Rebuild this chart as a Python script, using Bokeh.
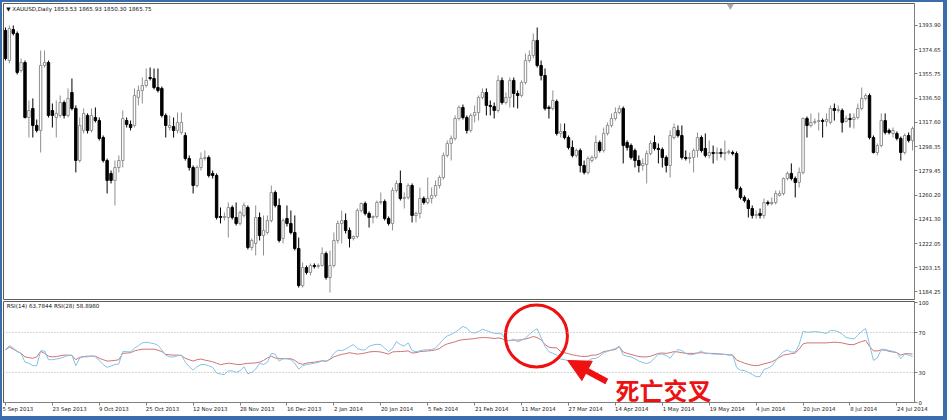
from bokeh.plotting import figure
from bokeh.layouts import column
from bokeh.models import (ColumnDataSource, FixedTicker, NumeralTickFormatter, Range1d,
                          Span, Label, Arrow, NormalHead)
from bokeh.embed import file_html
from bokeh.resources import INLINE

# XAUUSD daily bars, 5 Sep 2013 - late Jul 2014
opens = [1390.0, 1366.3, 1390.7, 1387.6, 1358.4, 1364.7, 1321.4, 1328.5, 1315.1, 1311.2,
         1362.4, 1364.7, 1326.9, 1321.4, 1323.0, 1333.2, 1323.0, 1341.1, 1328.5, 1287.5,
         1311.2, 1323.0, 1311.2, 1321.4, 1319.0, 1305.6, 1287.5, 1277.3, 1271.8, 1282.0,
         1287.5, 1319.0, 1315.9, 1315.1, 1337.2, 1342.7, 1346.6, 1352.9, 1352.1, 1345.0,
         1344.3, 1323.0, 1313.5, 1314.3, 1311.2, 1309.6, 1307.2, 1289.1, 1282.0, 1267.8,
         1282.0, 1289.1, 1289.9, 1277.3, 1275.7, 1243.4, 1242.6, 1242.6, 1250.5, 1242.6,
         1237.9, 1244.2, 1250.5, 1219.0, 1222.1, 1242.6, 1228.4, 1230.8, 1240.2, 1262.3,
         1252.1, 1226.1, 1241.8, 1237.9, 1230.8, 1218.2, 1189.0, 1203.2, 1199.3, 1204.8,
         1204.0, 1204.8, 1214.2, 1195.3, 1204.8, 1224.5, 1237.9, 1240.2, 1232.4, 1226.1,
         1227.6, 1248.1, 1253.6, 1245.8, 1242.6, 1243.4, 1254.4, 1255.2, 1241.8, 1237.9,
         1263.9, 1269.4, 1257.6, 1258.4, 1267.8, 1244.2, 1245.8, 1257.6, 1254.4, 1257.6,
         1260.0, 1267.8, 1274.1, 1291.5, 1300.9, 1304.9, 1320.6, 1329.3, 1321.4, 1311.2,
         1323.0, 1325.3, 1337.2, 1341.1, 1330.9, 1330.1, 1326.9, 1350.6, 1333.2, 1337.2,
         1350.6, 1340.3, 1338.7, 1349.0, 1366.3, 1370.3, 1382.1, 1362.4, 1354.5, 1329.3,
         1328.5, 1334.0, 1308.8, 1310.4, 1305.6, 1297.8, 1291.5, 1295.4, 1283.6, 1278.1,
         1287.5, 1289.9, 1301.7, 1295.4, 1308.8, 1315.1, 1320.6, 1325.3, 1328.5, 1301.7,
         1299.3, 1295.4, 1287.5, 1283.6, 1284.4, 1293.0, 1301.7, 1297.0, 1296.2, 1289.9,
         1283.6, 1305.6, 1311.2, 1307.2, 1289.9, 1289.1, 1289.9, 1295.4, 1305.6, 1297.0,
         1291.5, 1293.8, 1293.0, 1293.8, 1293.0, 1293.8, 1293.8, 1293.0, 1265.5, 1258.4,
         1256.0, 1249.7, 1244.2, 1245.8, 1244.2, 1254.4, 1253.6, 1254.4, 1260.0, 1261.5,
         1273.3, 1277.3, 1273.3, 1270.2, 1278.1, 1320.6, 1315.1, 1317.5, 1318.3, 1319.0,
         1318.3, 1317.5, 1328.5, 1326.9, 1326.9, 1318.3, 1320.6, 1319.8, 1321.4, 1328.5,
         1336.4, 1338.7, 1305.6, 1293.8, 1299.3, 1319.0, 1311.2, 1308.8, 1308.8, 1304.9,
         1293.8, 1307.2, 1303.3]
highs = [1392.3, 1393.9, 1393.9, 1389.2, 1367.9, 1366.3, 1334.8, 1336.4, 1319.8, 1374.2,
         1374.2, 1366.3, 1332.4, 1334.8, 1338.7, 1334.8, 1344.3, 1352.1, 1330.9, 1321.4,
         1328.5, 1324.6, 1328.5, 1329.3, 1321.4, 1307.2, 1289.1, 1279.6, 1287.5, 1291.5,
         1326.9, 1321.4, 1319.0, 1344.3, 1346.6, 1352.9, 1360.0, 1360.8, 1360.0, 1360.0,
         1345.8, 1324.6, 1323.0, 1321.4, 1325.3, 1325.3, 1309.6, 1291.5, 1283.6, 1283.6,
         1293.8, 1295.4, 1291.5, 1279.6, 1277.3, 1250.5, 1246.5, 1254.4, 1252.1, 1254.4,
         1248.1, 1254.4, 1252.1, 1226.1, 1252.1, 1246.5, 1244.2, 1244.2, 1267.8, 1263.9,
         1257.6, 1241.8, 1252.1, 1248.1, 1244.2, 1226.8, 1207.1, 1204.8, 1206.4, 1206.4,
         1206.4, 1219.0, 1215.8, 1216.6, 1230.8, 1240.2, 1248.1, 1245.8, 1234.7, 1228.4,
         1249.7, 1254.4, 1255.2, 1247.3, 1244.2, 1256.0, 1262.3, 1256.8, 1243.4, 1266.2,
         1271.8, 1279.6, 1262.3, 1269.4, 1269.4, 1247.3, 1266.2, 1259.2, 1274.1, 1266.2,
         1271.8, 1275.7, 1293.8, 1303.3, 1307.2, 1323.0, 1330.9, 1331.6, 1323.0, 1324.6,
         1330.9, 1338.7, 1344.3, 1344.3, 1334.8, 1333.2, 1354.5, 1352.9, 1341.1, 1352.9,
         1352.9, 1342.7, 1350.6, 1371.8, 1374.2, 1387.6, 1392.3, 1366.3, 1360.0, 1330.9,
         1342.7, 1335.6, 1316.7, 1316.7, 1307.2, 1303.3, 1297.0, 1297.0, 1287.5, 1290.7,
         1291.5, 1307.2, 1303.3, 1313.5, 1317.5, 1324.6, 1329.3, 1330.9, 1330.1, 1303.3,
         1300.9, 1297.0, 1291.5, 1289.1, 1295.4, 1303.3, 1307.2, 1300.9, 1297.8, 1291.5,
         1311.2, 1316.7, 1315.1, 1315.1, 1295.4, 1293.8, 1297.0, 1309.6, 1307.2, 1308.8,
         1303.3, 1299.3, 1297.8, 1297.0, 1303.3, 1296.2, 1295.4, 1294.6, 1267.0, 1260.0,
         1257.6, 1252.1, 1248.1, 1249.7, 1257.6, 1256.0, 1258.4, 1263.9, 1263.9, 1274.1,
         1278.9, 1285.2, 1274.9, 1282.0, 1321.4, 1322.2, 1324.6, 1320.6, 1325.3, 1320.6,
         1324.6, 1330.9, 1332.4, 1330.9, 1328.5, 1323.0, 1324.6, 1324.6, 1332.4, 1345.0,
         1340.3, 1340.3, 1307.2, 1300.9, 1324.6, 1324.6, 1312.7, 1313.5, 1310.4, 1306.4,
         1308.8, 1309.6, 1314.3]
lows = [1366.3, 1364.0, 1386.0, 1355.3, 1356.9, 1320.6, 1305.6, 1305.6, 1309.6, 1293.8,
        1360.8, 1321.4, 1313.5, 1305.6, 1321.4, 1320.6, 1321.4, 1326.9, 1278.1, 1285.9,
        1308.8, 1308.8, 1309.6, 1317.5, 1303.3, 1285.9, 1261.5, 1269.4, 1252.1, 1278.1,
        1282.0, 1313.5, 1311.2, 1313.5, 1330.9, 1332.4, 1345.0, 1350.6, 1343.5, 1341.1,
        1321.4, 1305.6, 1311.2, 1305.6, 1308.8, 1308.0, 1287.5, 1279.6, 1261.5, 1266.2,
        1279.6, 1287.5, 1274.1, 1273.3, 1241.0, 1237.9, 1240.2, 1226.8, 1241.0, 1236.3,
        1236.3, 1242.6, 1217.4, 1216.6, 1212.7, 1224.5, 1212.7, 1229.2, 1238.7, 1250.5,
        1222.9, 1222.1, 1235.5, 1229.2, 1216.6, 1187.4, 1187.4, 1197.7, 1196.9, 1202.4,
        1202.4, 1204.0, 1193.7, 1183.5, 1203.2, 1222.1, 1222.1, 1230.0, 1219.0, 1224.5,
        1226.1, 1246.5, 1244.2, 1234.7, 1237.9, 1241.8, 1252.8, 1240.2, 1236.3, 1232.4,
        1262.3, 1256.0, 1249.7, 1256.8, 1238.7, 1238.7, 1241.8, 1252.8, 1252.8, 1253.6,
        1258.4, 1265.5, 1272.5, 1289.9, 1287.5, 1303.3, 1319.0, 1319.8, 1308.8, 1309.6,
        1317.5, 1319.0, 1335.6, 1323.0, 1323.0, 1320.6, 1325.3, 1331.6, 1331.6, 1329.3,
        1329.3, 1328.5, 1337.2, 1347.4, 1364.7, 1367.9, 1360.8, 1350.6, 1326.9, 1320.6,
        1326.9, 1307.2, 1305.6, 1304.1, 1296.2, 1289.9, 1289.9, 1278.1, 1276.5, 1276.5,
        1285.9, 1288.3, 1293.8, 1293.8, 1307.2, 1313.5, 1319.0, 1323.8, 1285.2, 1295.4,
        1288.3, 1282.0, 1278.1, 1279.6, 1269.4, 1291.5, 1295.4, 1285.2, 1282.0, 1278.1,
        1274.1, 1304.1, 1305.6, 1288.3, 1287.5, 1285.2, 1278.1, 1289.9, 1293.8, 1289.9,
        1289.1, 1285.2, 1287.5, 1289.9, 1287.5, 1292.2, 1291.5, 1263.9, 1256.8, 1254.4,
        1242.6, 1241.8, 1241.8, 1241.8, 1241.8, 1252.1, 1252.1, 1252.8, 1259.2, 1260.0,
        1271.8, 1271.8, 1258.4, 1266.2, 1276.5, 1305.6, 1313.5, 1315.9, 1311.2, 1305.6,
        1314.3, 1315.9, 1319.0, 1325.3, 1309.6, 1317.5, 1313.5, 1312.7, 1319.8, 1326.9,
        1334.8, 1304.1, 1293.0, 1291.5, 1297.8, 1308.0, 1308.0, 1305.6, 1303.3, 1287.5,
        1292.2, 1301.7, 1295.4]
closes = [1367.9, 1391.5, 1387.6, 1356.9, 1364.7, 1321.4, 1326.9, 1315.1, 1311.2, 1362.4,
          1364.7, 1323.0, 1323.0, 1324.6, 1333.2, 1323.0, 1336.4, 1328.5, 1287.5, 1315.1,
          1324.6, 1311.2, 1323.0, 1319.0, 1304.9, 1287.5, 1271.8, 1271.8, 1282.0, 1287.5,
          1320.6, 1315.9, 1313.5, 1338.7, 1342.7, 1346.6, 1350.6, 1352.1, 1345.0, 1342.7,
          1323.0, 1315.1, 1315.1, 1311.2, 1317.5, 1317.5, 1289.1, 1282.0, 1267.8, 1282.0,
          1289.1, 1289.9, 1275.7, 1275.7, 1242.6, 1242.6, 1243.4, 1250.5, 1242.6, 1237.9,
          1246.5, 1252.1, 1219.0, 1224.5, 1242.6, 1228.4, 1232.4, 1240.2, 1262.3, 1252.1,
          1224.5, 1240.2, 1237.9, 1230.8, 1218.2, 1189.0, 1203.2, 1199.3, 1204.8, 1204.0,
          1204.8, 1214.2, 1195.3, 1204.8, 1224.5, 1237.9, 1240.2, 1232.4, 1226.1, 1227.6,
          1248.1, 1253.6, 1245.8, 1242.6, 1243.4, 1254.4, 1255.2, 1241.8, 1237.9, 1263.9,
          1269.4, 1257.6, 1258.4, 1267.8, 1244.2, 1245.8, 1257.6, 1254.4, 1257.6, 1260.0,
          1267.8, 1274.1, 1291.5, 1300.9, 1304.9, 1320.6, 1329.3, 1321.4, 1311.2, 1323.0,
          1325.3, 1337.2, 1341.1, 1330.9, 1330.1, 1326.9, 1350.6, 1333.2, 1337.2, 1350.6,
          1340.3, 1338.7, 1349.0, 1366.3, 1370.3, 1382.1, 1362.4, 1354.5, 1328.5, 1328.5,
          1334.8, 1308.8, 1310.4, 1305.6, 1297.8, 1291.5, 1295.4, 1283.6, 1278.1, 1289.1,
          1289.9, 1301.7, 1295.4, 1308.8, 1315.1, 1320.6, 1325.3, 1328.5, 1299.3, 1297.8,
          1289.9, 1287.5, 1283.6, 1285.2, 1293.0, 1300.9, 1297.0, 1296.2, 1289.9, 1283.6,
          1307.2, 1313.5, 1307.2, 1289.9, 1289.1, 1289.9, 1295.4, 1305.6, 1295.4, 1291.5,
          1293.8, 1293.0, 1293.8, 1293.0, 1293.8, 1294.6, 1293.0, 1265.5, 1258.4, 1256.0,
          1249.7, 1244.2, 1245.0, 1244.2, 1254.4, 1253.6, 1254.4, 1261.5, 1261.5, 1273.3,
          1277.3, 1273.3, 1270.2, 1278.1, 1320.6, 1315.1, 1317.5, 1318.3, 1319.0, 1318.3,
          1319.8, 1328.5, 1326.9, 1327.7, 1317.5, 1320.6, 1319.8, 1321.4, 1328.5, 1336.4,
          1338.7, 1305.6, 1293.8, 1299.3, 1319.0, 1309.6, 1309.6, 1311.2, 1304.9, 1293.8,
          1307.2, 1303.3, 1312.7]

rsi14 = [52.6, 56.8, 54.4, 50.9, 49.1, 40.3, 39.3, 36.8, 36.8, 51.6,
         51.6, 42.8, 42.8, 43.5, 44.2, 45.6, 47.0, 47.4, 36.8, 44.5,
         45.6, 45.6, 46.7, 45.6, 42.1, 37.9, 35.1, 36.5, 37.9, 38.6,
         50.9, 50.9, 50.5, 54.4, 56.8, 59.6, 60.3, 59.6, 58.9, 57.2,
         52.6, 47.4, 45.6, 45.6, 46.7, 47.4, 40.3, 35.8, 32.3, 35.8,
         37.9, 37.9, 36.8, 35.1, 29.5, 28.4, 28.0, 31.6, 31.6, 30.2,
         31.6, 35.8, 28.7, 30.2, 33.3, 39.3, 37.9, 40.3, 49.1, 48.4,
         41.4, 43.8, 43.8, 42.8, 39.3, 33.3, 36.8, 37.9, 38.6, 39.3,
         40.0, 41.7, 40.7, 43.5, 49.1, 52.3, 51.9, 53.3, 55.8, 57.9,
         54.0, 52.6, 52.6, 56.1, 57.5, 58.2, 57.9, 54.4, 50.9, 54.0,
         61.0, 57.9, 56.5, 59.6, 51.9, 50.9, 51.6, 52.6, 52.6, 53.0,
         54.7, 58.6, 63.2, 66.7, 68.1, 70.2, 73.0, 76.1, 74.4, 70.2,
         69.5, 70.9, 73.3, 71.9, 70.5, 69.1, 69.1, 68.4, 62.4, 61.7,
         63.2, 60.7, 62.1, 64.6, 68.1, 71.6, 73.7, 64.9, 56.1, 50.9,
         49.1, 47.4, 43.5, 42.8, 41.7, 41.0, 39.6, 40.0, 39.6, 41.4,
         43.8, 44.2, 46.3, 49.8, 51.2, 52.6, 54.0, 56.1, 47.4, 46.3,
         45.6, 43.8, 41.4, 40.0, 38.9, 40.3, 44.5, 48.1, 48.4, 47.0,
         44.2, 49.5, 53.0, 51.9, 49.1, 47.7, 48.1, 49.5, 51.6, 48.8,
         49.1, 48.4, 48.4, 48.4, 48.1, 47.4, 47.4, 35.1, 32.3, 31.9,
         30.2, 28.0, 25.9, 25.9, 33.0, 34.4, 36.5, 41.7, 47.0, 50.9,
         52.3, 50.5, 50.5, 57.9, 71.2, 70.2, 70.5, 70.9, 70.5, 69.8,
         69.1, 71.9, 71.9, 70.9, 68.4, 64.9, 64.2, 63.5, 67.4, 71.2,
         74.0, 57.9, 42.1, 44.5, 53.3, 53.0, 51.9, 51.2, 49.8, 43.8,
         48.4, 47.4, 46.0]
rsi28 = [52.6, 55.4, 53.3, 51.2, 49.1, 45.6, 44.9, 44.2, 45.6, 51.2,
         49.1, 46.3, 45.6, 46.0, 46.7, 47.4, 47.4, 47.0, 42.8, 45.2,
         46.0, 46.3, 46.3, 46.3, 44.2, 42.8, 41.4, 41.7, 42.1, 42.8,
         49.1, 49.5, 49.8, 51.6, 52.6, 53.3, 53.3, 53.3, 53.3, 52.3,
         50.9, 48.1, 47.7, 47.4, 47.4, 47.0, 44.2, 42.8, 41.4, 42.8,
         43.5, 42.4, 41.7, 40.7, 39.3, 37.9, 38.6, 39.3, 38.9, 38.2,
         37.9, 38.6, 39.3, 39.3, 39.6, 40.3, 42.1, 44.5, 46.3, 44.5,
         43.8, 43.8, 43.8, 43.8, 42.1, 39.3, 38.2, 39.3, 40.0, 40.3,
         41.0, 41.7, 41.4, 43.1, 45.6, 47.0, 48.1, 48.8, 49.8, 49.1,
         48.4, 48.8, 49.5, 50.5, 50.9, 50.9, 50.5, 49.5, 48.4, 50.5,
         50.9, 50.9, 51.2, 51.6, 49.5, 49.8, 50.9, 51.2, 51.6, 51.9,
         52.6, 54.0, 56.8, 58.6, 59.6, 60.7, 62.1, 62.8, 63.2, 63.5,
         63.9, 64.6, 64.9, 64.9, 64.6, 63.9, 64.6, 63.9, 61.7, 62.1,
         62.4, 62.4, 62.8, 63.5, 64.6, 66.0, 64.9, 62.8, 57.9, 55.4,
         54.7, 54.7, 50.9, 49.8, 48.8, 47.7, 47.0, 46.3, 46.0, 46.3,
         47.4, 47.4, 48.8, 50.9, 51.6, 52.3, 53.0, 55.8, 50.5, 49.1,
         48.1, 47.0, 46.0, 45.6, 45.6, 46.3, 47.7, 49.1, 49.5, 49.1,
         49.8, 50.9, 50.5, 49.8, 49.1, 49.1, 49.1, 49.5, 49.8, 49.5,
         49.1, 49.1, 48.8, 48.4, 48.1, 47.7, 47.4, 42.4, 41.0, 39.3,
         38.2, 37.2, 36.8, 37.5, 38.6, 39.6, 40.7, 42.8, 45.2, 47.4,
         48.1, 48.8, 49.5, 53.3, 58.6, 59.6, 59.6, 59.6, 59.6, 59.6,
         59.6, 60.0, 60.3, 60.0, 59.6, 58.6, 57.9, 57.9, 59.6, 61.0,
         62.1, 56.1, 51.6, 51.6, 52.6, 52.3, 51.2, 50.5, 49.8, 47.4,
         48.8, 48.8, 48.4]

date_labels = ["5 Sep 2013", "23 Sep 2013", "9 Oct 2013", "25 Oct 2013", "12 Nov 2013",
               "28 Nov 2013", "16 Dec 2013", "2 Jan 2014", "20 Jan 2014", "5 Feb 2014",
               "21 Feb 2014", "11 Mar 2014", "27 Mar 2014", "14 Apr 2014", "1 May 2014",
               "19 May 2014", "4 Jun 2014", "20 Jun 2014", "8 Jul 2014", "24 Jul 2014"]
price_ticks = [1184.25, 1203.15, 1222.05, 1241.30, 1260.20, 1279.45,
               1298.35, 1317.60, 1336.50, 1355.75, 1374.65, 1393.90]
rsi_ticks = [0, 30, 70, 100]
rsi_levels = [30, 70]
bars_per_label = 12

FONT = "DejaVu Sans"
AX_SIZE = "5.4px"
FRAME_BLUE = "#3b6cae"

# DejaVu Sans advance widths (em) for the characters used in the date labels
ADV = {" ": 0.318, "S": 0.635, "e": 0.615, "p": 0.635, "O": 0.787, "c": 0.550,
       "t": 0.392, "N": 0.748, "o": 0.612, "v": 0.592, "D": 0.770, "J": 0.295,
       "a": 0.613, "n": 0.634, "F": 0.575, "b": 0.635, "M": 0.863, "r": 0.411,
       "A": 0.684, "y": 0.592, "u": 0.634, "l": 0.278, "L": 0.557}
NBSP = "\u00a0"


def left_anchored(text):
    """Pad a centred tick label so that its visible part starts at the tick."""
    width = sum(ADV.get(ch, 0.636) for ch in text)
    return NBSP * round(width / ADV[" "]) + text


n = len(closes)
xs = list(range(n))
bull = [c >= o for o, c in zip(opens, closes)]
src = ColumnDataSource(dict(
    x=xs, high=highs, low=lows,
    top=[max(o, c) for o, c in zip(opens, closes)],
    bottom=[min(o, c) for o, c in zip(opens, closes)],
    fill=["white" if b else "black" for b in bull],
    edge=["#8f8f8f" if b else "black" for b in bull],
))

x_range = Range1d(-0.5, 232.5)


def style_axis(ax):
    ax.axis_line_color = "#7f7f7f"
    ax.major_tick_line_color = "#7f7f7f"
    ax.minor_tick_line_color = None
    ax.major_tick_in = 0
    ax.major_tick_out = 3
    ax.major_label_text_font = FONT
    ax.major_label_text_font_size = AX_SIZE
    ax.major_label_text_color = "#222222"


# ---- price panel ----
main = figure(frame_width=911, frame_height=297, x_range=x_range,
              y_range=Range1d(1177.2, 1411.2), output_backend="svg",
              toolbar_location=None, x_axis_location=None, y_axis_location="right",
              min_border_left=1, min_border_right=25, min_border_top=1, min_border_bottom=0)
main.grid.visible = False
main.outline_line_color = "#5c5c5c"
main.background_fill_color = "white"
main.border_fill_color = "white"
style_axis(main.yaxis[0])
main.yaxis[0].ticker = FixedTicker(ticks=price_ticks)
main.yaxis[0].formatter = NumeralTickFormatter(format="0.00")
main.yaxis[0].major_label_standoff = 1

main.segment(x0="x", y0="low", x1="x", y1="high", line_color="edge", line_width=1, source=src)
main.vbar(x="x", width=0.62, top="top", bottom="bottom", fill_color="fill",
          line_color="edge", line_width=1, source=src)
main.scatter(x=[185.4], y=[1409.4], marker="inverted_triangle", size=6,
             color="#a8a8a8")
main.add_layout(Label(x=0.2, y=1406.9, text="\u25bc XAUUSD,Daily  1853.53 1865.93 1850.30 1865.75",
                      text_font=FONT, text_font_size="5.6px", text_color="#111111",
                      text_baseline="middle"))

# ---- RSI panel ----
rsi = figure(frame_width=911, frame_height=101, x_range=x_range,
             y_range=Range1d(0, 101), output_backend="svg",
             toolbar_location=None, y_axis_location="right",
             min_border_left=1, min_border_right=25, min_border_top=1, min_border_bottom=14)
rsi.grid.visible = False
rsi.outline_line_color = "#5c5c5c"
rsi.border_fill_color = "white"
style_axis(rsi.yaxis[0])
rsi.yaxis[0].ticker = FixedTicker(ticks=rsi_ticks)
rsi.yaxis[0].major_label_standoff = 1
style_axis(rsi.xaxis[0])
tick_pos = [i * bars_per_label for i in range(len(date_labels))]
rsi.xaxis[0].ticker = FixedTicker(ticks=tick_pos)
# the first label already sits against the left edge of the canvas
overrides = {tick_pos[0]: date_labels[0]}
overrides.update({t: left_anchored(lab) for t, lab in zip(tick_pos[1:], date_labels[1:])})
rsi.xaxis[0].major_label_overrides = overrides
rsi.xaxis[0].major_label_standoff = 0

for lvl in rsi_levels:
    rsi.add_layout(Span(location=lvl, dimension="width", line_color="#b0b0b0",
                        line_width=1, line_dash="1 2"))

rsi.line(xs, rsi28, line_color="#cd7474", line_width=1)
rsi.line(xs, rsi14, line_color="#84c2e6", line_width=1)

rsi.add_layout(Label(x=0.3, y=96.5, text="RSI(14) 63.7844  RSI(28) 58.8980",
                     text_font=FONT, text_font_size="5.6px", text_color="#111111",
                     text_baseline="middle"))

# death-cross highlight
rsi.scatter(x=[135.8], y=[66.5], marker="circle", size=62, fill_color=None,
            line_color="#ee1111", line_width=3)
rsi.add_layout(Arrow(end=NormalHead(size=22, fill_color="#ee1111", line_color="#ee1111"),
                     x_start=153.8, y_start=21, x_end=143.8, y_end=42,
                     line_color="#ee1111", line_width=6))
rsi.add_layout(Label(x=156.0, y=13.5, text="死亡交叉", text_font="Noto Sans CJK SC",
                     text_font_size="24px", text_font_style="bold", text_color="#ee1111",
                     text_baseline="middle"))

layout = column(main, rsi, spacing=0,
                styles={"border-left": f"2px solid {FRAME_BLUE}",
                        "border-top": f"2px solid {FRAME_BLUE}",
                        "border-right": f"4px solid {FRAME_BLUE}",
                        "border-bottom": f"4px solid {FRAME_BLUE}"})

open("out.html", "w").write(file_html(layout, INLINE))
